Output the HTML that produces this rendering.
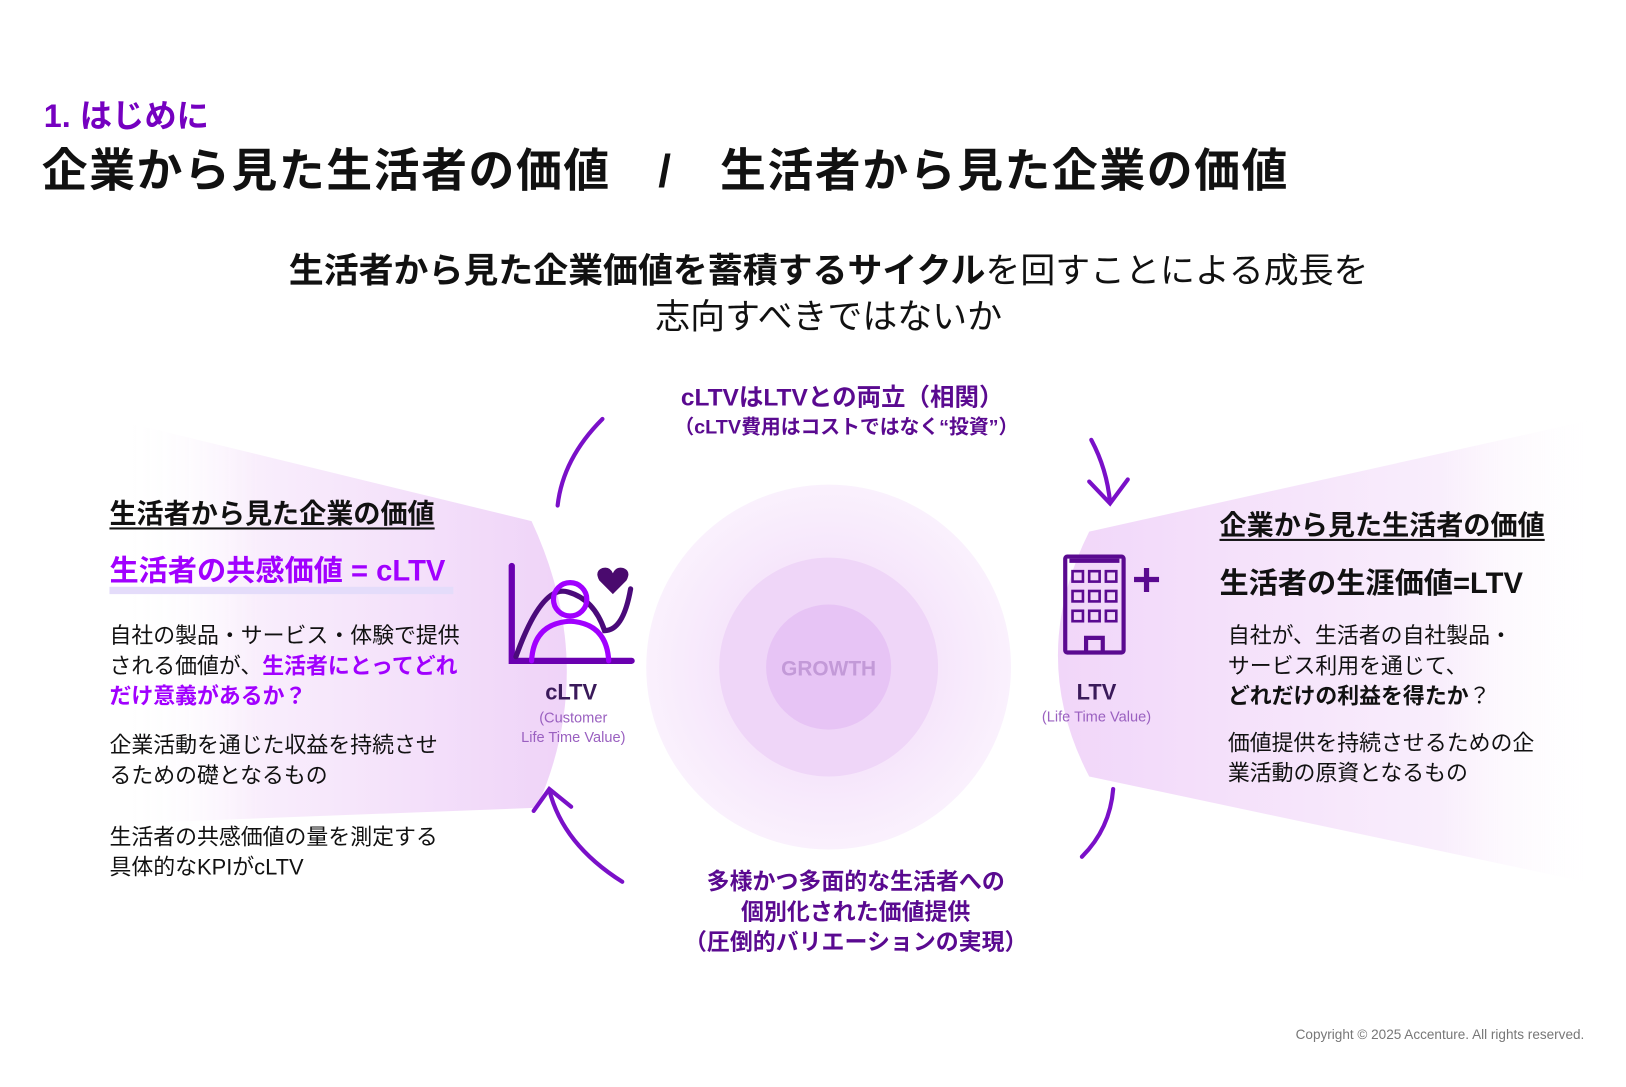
<!DOCTYPE html>
<html><head><meta charset="utf-8"><style>
html,body{margin:0;padding:0;background:#fff;width:1626px;height:1087px;overflow:hidden}
#w{position:absolute;left:0;top:0;width:1560px;height:1043px;transform:scale(1.0423);transform-origin:0 0;font-family:"Liberation Sans","Noto Sans CJK JP",sans-serif;color:#111}
.t{position:absolute;white-space:nowrap}
.p{color:#7500c0}
.b{font-weight:bold}
.c{transform:translateX(-50%);text-align:center}
</style></head><body><div id="w">
<svg width="1560" height="1043" style="position:absolute;left:0;top:0">
<defs>
<linearGradient id="gl" x1="0" x2="1"><stop offset="0" stop-color="#fff" stop-opacity="0"/><stop offset="0.3" stop-color="#f9eefc"/><stop offset="1" stop-color="#efd3f8"/></linearGradient>
<linearGradient id="gr" x1="1" x2="0"><stop offset="0" stop-color="#fff" stop-opacity="0"/><stop offset="0.3" stop-color="#f9eefc"/><stop offset="1" stop-color="#f1d6f9"/></linearGradient>
<radialGradient id="c1"><stop offset="0.6" stop-color="#f6e6fb"/><stop offset="1" stop-color="#faf1fd"/></radialGradient>
</defs>
<path d="M120,405 L510,500 Q575,640 515,775 L120,790 Z" fill="url(#gl)"/>
<path d="M1540,400 L1045,510 Q985,630 1045,745 L1540,850 Z" fill="url(#gr)"/>
<circle cx="795" cy="640" r="175" fill="url(#c1)"/>
<circle cx="795" cy="640" r="105" fill="#efd6f8"/>
<circle cx="795" cy="640" r="60" fill="#e7c4f5"/>
<g fill="none" stroke="#7a10c8" stroke-width="4" stroke-linecap="round">
<path d="M578,402 Q540,440 535,485"/>
<path d="M1047,422 Q1062,450 1065,482"/>
<path d="M1045,462 L1065,483 L1082,460"/>
<path d="M1068,757 Q1065,795 1038,822"/>
<path d="M597,846 Q540,810 527,758"/>
<path d="M512,778 L527,757 L548,774"/>
</g>
<g fill="none" stroke-linecap="round">
<path d="M491,543 V634 H606" stroke="#6a00b0" stroke-width="6"/>
<path d="M495,630 Q520,560 545,568 Q570,575 580,605 Q598,605 605,565" stroke="#4a0a7a" stroke-width="5"/>
<circle cx="547" cy="575" r="16" stroke="#a100ff" stroke-width="5"/>
<path d="M510,634 Q512,598 547,596 Q582,598 584,634" stroke="#a100ff" stroke-width="5"/>
</g>
<path d="M588,570 L575,557 Q570,548 578,545 Q585,543 588,550 Q591,543 598,545 Q606,548 601,557 Z" fill="#4a0a6e"/>
<g fill="none" stroke="#5a0a90" stroke-width="4">
<rect x="1022" y="534" width="56" height="92" rx="2"/>
<path d="M1026,538 H1074"/>
<path d="M1042,626 V612 H1058 V626"/>
</g>
<g fill="none" stroke="#5a0a90" stroke-width="2.5">
<rect x="1029" y="548" width="10" height="10"/><rect x="1045" y="548" width="10" height="10"/><rect x="1061" y="548" width="10" height="10"/>
<rect x="1029" y="567" width="10" height="10"/><rect x="1045" y="567" width="10" height="10"/><rect x="1061" y="567" width="10" height="10"/>
<rect x="1029" y="586" width="10" height="10"/><rect x="1045" y="586" width="10" height="10"/><rect x="1061" y="586" width="10" height="10"/>
</g>
<path d="M1100,545 V568 M1088,556 H1112" stroke="#5a0a90" stroke-width="5"/>
<rect x="105" y="563" width="330" height="7" fill="#e4dcfa"/>
</svg>

<div class="t p b" style="left:42px;top:86px;font-size:31px">1. はじめに</div>
<div class="t b" style="left:40px;top:128px;font-size:44px;letter-spacing:1.5px">企業から見た生活者の価値　/　生活者から見た企業の価値</div>
<div class="t c" style="left:795px;top:232px;font-size:33.5px"><span class="b">生活者から見た企業価値を蓄積するサイクル</span>を回すことによる成長を</div>
<div class="t c" style="left:795px;top:276px;font-size:33.5px">志向すべきではないか</div>

<div class="t c p b" style="left:808px;top:362px;font-size:23.5px;color:#5a0a90">cLTVはLTVとの両立（相関）</div>
<div class="t c p b" style="left:812px;top:395px;font-size:19px;color:#5a0a90">（cLTV費用はコストではなく“投資”）</div>
<div class="t c p b" style="left:821px;top:831px;font-size:22px;color:#5a0a90;line-height:29px">多様かつ多面的な生活者への<br>個別化された価値提供<br>（圧倒的バリエーションの実現）</div>

<div class="t c b" style="left:795px;top:631px;font-size:20px;color:#c39ad8">GROWTH</div>

<div class="t b" style="left:105px;top:473px;font-size:26px;text-decoration:underline;text-underline-offset:4px">生活者から見た企業の価値</div>
<div class="t b" style="left:105px;top:526px;font-size:28px;color:#a100ff">生活者の共感価値 = cLTV</div>
<div class="t" style="left:105px;top:596px;font-size:21px;line-height:29px">自社の製品・サービス・体験で提供<br>される価値が、<span class="b" style="color:#a100ff">生活者にとってどれ<br>だけ意義があるか？</span></div>
<div class="t" style="left:105px;top:701px;font-size:21px;line-height:29px">企業活動を通じた収益を持続させ<br>るための礎となるもの</div>
<div class="t" style="left:105px;top:789px;font-size:21px;line-height:29px">生活者の共感価値の量を測定する<br>具体的なKPIがcLTV</div>

<div class="t c b" style="left:548px;top:653px;font-size:21px;color:#3a1a5a">cLTV</div>
<div class="t c" style="left:550px;top:679px;font-size:14px;color:#9a60c0;line-height:19px">(Customer<br>Life Time Value)</div>
<div class="t c b" style="left:1052px;top:653px;font-size:21px;color:#3a1a5a">LTV</div>
<div class="t c" style="left:1052px;top:679px;font-size:14px;color:#9a60c0">(Life Time Value)</div>

<div class="t b" style="left:1170px;top:484px;font-size:26px;text-decoration:underline;text-underline-offset:4px">企業から見た生活者の価値</div>
<div class="t b" style="left:1170px;top:538px;font-size:28px">生活者の生涯価値=LTV</div>
<div class="t" style="left:1178px;top:596px;font-size:21px;line-height:29px">自社が、生活者の自社製品・<br>サービス利用を通じて、<br><span class="b">どれだけの利益を得たか</span>？</div>
<div class="t" style="left:1178px;top:699px;font-size:21px;line-height:29px">価値提供を持続させるための企<br>業活動の原資となるもの</div>

<div class="t" style="right:40px;top:985px;font-size:13px;color:#777">Copyright © 2025 Accenture. All rights reserved.</div>
</div></body></html>
